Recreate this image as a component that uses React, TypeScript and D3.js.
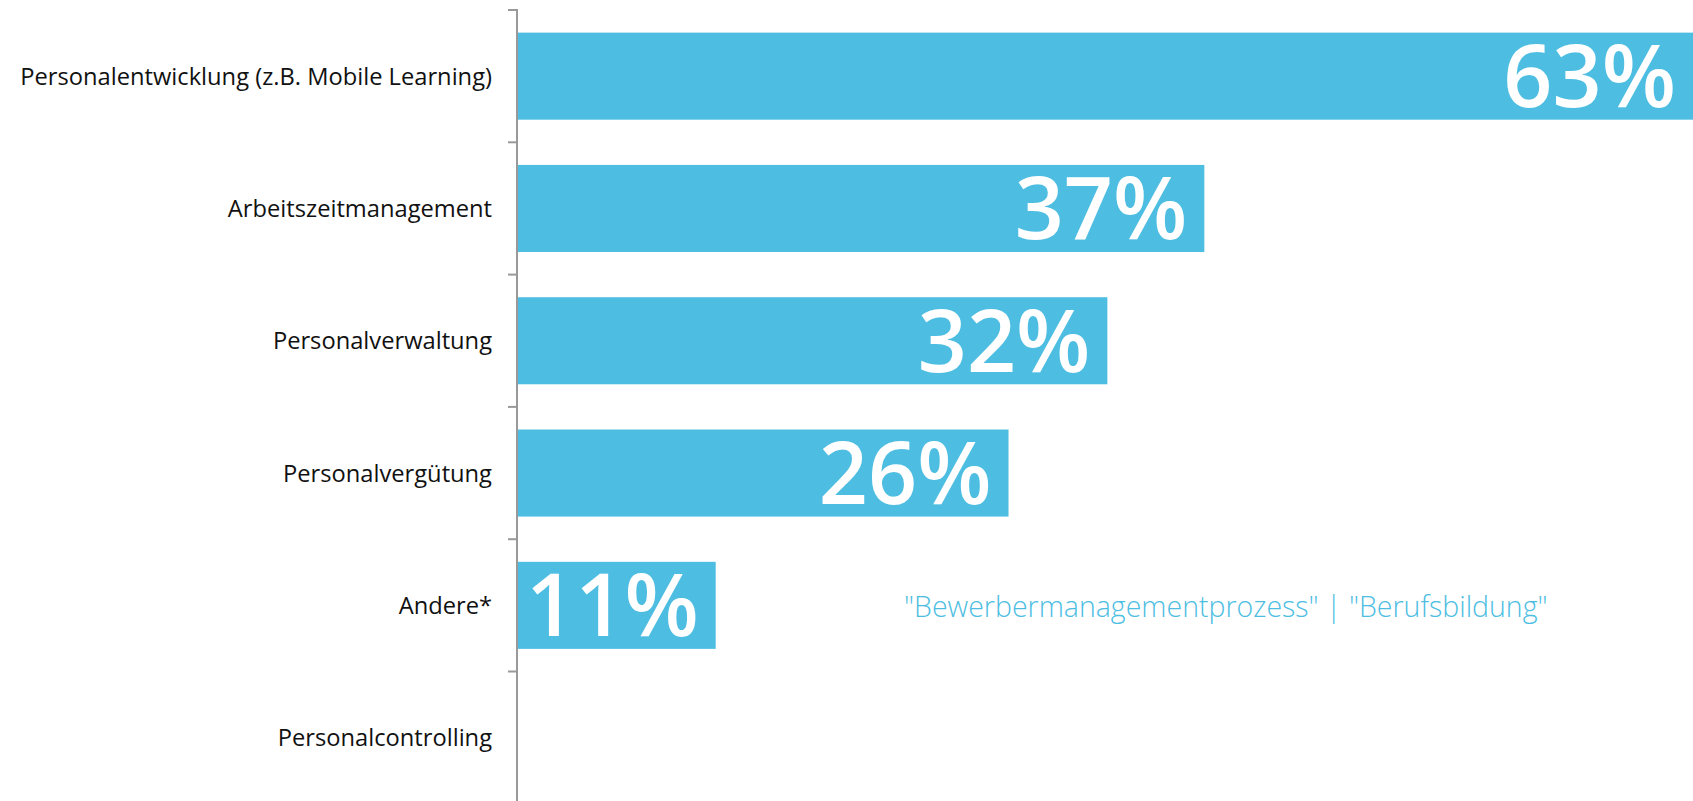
import React from "react";
import * as d3 from "d3";

const categories = [
  "Personalentwicklung (z.B. Mobile Learning)",
  "Arbeitszeitmanagement",
  "Personalverwaltung",
  "Personalvergütung",
  "Andere*",
  "Personalcontrolling",
];
const values = [63, 36.8, 31.6, 26.3, 10.6, 0];
const annotation = '"Bewerbermanagementprozess" | "Berufsbildung"';

const W = 1693;
const H = 801;
const BLUE = "#4dbee2";
const FONT = "'Open Sans', 'Noto Sans', sans-serif";

export default function App() {
  const axisX = 518;
  const x = d3.scaleLinear().domain([0, 63]).range([axisX, W]);
  const y = d3
    .scaleBand<string>()
    .domain(categories)
    .range([10, 10 + 6 * 132.3])
    .paddingInner(0.342)
    .paddingOuter(0.171);
  const step = y.step();
  const tickYs = d3.range(categories.length + 1).map((i) => 10 + i * step);

  return (
    <svg
      width={W}
      height={H}
      style={{ position: "absolute", left: 0, top: 0, display: "block" }}
      fontFamily={FONT}
    >
      <rect width={W} height={H} fill="#fff" />
      {categories.map((c, i) => {
        const v = values[i];
        const by = y(c)!;
        const bh = y.bandwidth();
        const cy = by + bh / 2;
        return (
          <g key={c}>
            {v > 0 && (
              <rect x={axisX} y={by} width={x(v) - axisX} height={bh} fill={BLUE} />
            )}
            {v > 0 && (
              <text
                x={x(v) - 17}
                y={cy + 31}
                textAnchor="end"
                fill="#fff"
                fontSize={86}
                fontWeight={600}
              >
                {Math.round(v)}%
              </text>
            )}
            <text
              x={axisX - 26}
              y={cy + 8.5}
              textAnchor="end"
              fill="#111"
              fontSize={23.7}
            >
              {c}
            </text>
          </g>
        );
      })}
      <line x1={axisX - 1} x2={axisX - 1} y1={10} y2={H + 5} stroke="#999" strokeWidth={2} />
      {tickYs.map((t, i) => (
        <line key={i} x1={axisX - 10} x2={axisX} y1={t} y2={t} stroke="#999" strokeWidth={2} />
      ))}
      <text
        x={904}
        y={y(categories[4])! + y.bandwidth() / 2 + 12}
        fill={BLUE}
        fontSize={28.5}
        fontWeight={300}
      >
        {annotation}
      </text>
    </svg>
  );
}
